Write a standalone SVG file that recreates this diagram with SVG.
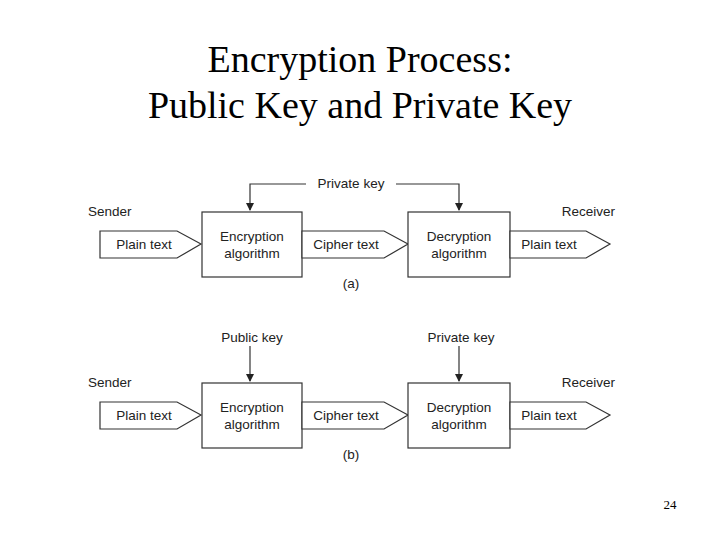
<svg xmlns="http://www.w3.org/2000/svg" width="720" height="540" viewBox="0 0 720 540">
<defs>
<style>
.t{font-family:"Liberation Serif",serif;font-size:38px;fill:#000;text-anchor:middle}
.s{font-family:"Liberation Sans",Arial,sans-serif;font-size:13.5px;fill:#222;text-anchor:middle}
.b{fill:#fff;stroke:#333;stroke-width:1.2}
.l{fill:none;stroke:#333;stroke-width:1.2}
</style>
<marker id="ah" markerWidth="8" markerHeight="8" refX="7" refY="4" orient="auto" markerUnits="userSpaceOnUse"><path d="M0,0 L8,4 L0,8 Z" fill="#222"/></marker>
</defs>
<rect width="720" height="540" fill="#fff"/>
<text class="t" x="360" y="72">Encryption Process:</text>
<text class="t" x="360" y="118">Public Key and Private Key</text>
<g id="connectors">
<path class="l" d="M306,184 H250 V210" marker-end="url(#ah)"/>
<path class="l" d="M396,184 H459 V210" marker-end="url(#ah)"/>
<path class="l" d="M250,346 V381" marker-end="url(#ah)"/>
<path class="l" d="M459,346 V381" marker-end="url(#ah)"/>
</g>
<g id="diagram-a">
<text class="s" x="351" y="188">Private key</text>
<text class="s" x="88" y="216" style="text-anchor:start">Sender</text>
<text class="s" x="615" y="216" style="text-anchor:end">Receiver</text>
<g id="a-plain-in"><path class="b" d="M100,231 H177 L201,244 L177,258 H100 Z"/><text class="s" x="144" y="249">Plain text</text></g>
<g id="a-enc"><rect class="b" x="202" y="212" width="100" height="65"/><text class="s" x="252" y="241">Encryption</text><text class="s" x="252" y="258">algorithm</text></g>
<g id="a-cipher"><path class="b" d="M302,231 H384 L408,244 L384,258 H302 Z"/><text class="s" x="346" y="249">Cipher text</text></g>
<g id="a-dec"><rect class="b" x="408" y="212" width="102" height="65"/><text class="s" x="459" y="241">Decryption</text><text class="s" x="459" y="258">algorithm</text></g>
<g id="a-plain-out"><path class="b" d="M510,231 H586 L610,244 L586,258 H510 Z"/><text class="s" x="549" y="249">Plain text</text></g>
<text class="s" x="351" y="288">(a)</text>
</g>
<g id="diagram-b">
<text class="s" x="252" y="342">Public key</text>
<text class="s" x="461" y="342">Private key</text>
<text class="s" x="88" y="387" style="text-anchor:start">Sender</text>
<text class="s" x="615" y="387" style="text-anchor:end">Receiver</text>
<g id="b-plain-in"><path class="b" d="M100,402 H177 L201,415 L177,429 H100 Z"/><text class="s" x="144" y="420">Plain text</text></g>
<g id="b-enc"><rect class="b" x="202" y="383" width="100" height="65"/><text class="s" x="252" y="412">Encryption</text><text class="s" x="252" y="429">algorithm</text></g>
<g id="b-cipher"><path class="b" d="M302,402 H384 L408,415 L384,429 H302 Z"/><text class="s" x="346" y="420">Cipher text</text></g>
<g id="b-dec"><rect class="b" x="408" y="383" width="102" height="65"/><text class="s" x="459" y="412">Decryption</text><text class="s" x="459" y="429">algorithm</text></g>
<g id="b-plain-out"><path class="b" d="M510,402 H586 L610,415 L586,429 H510 Z"/><text class="s" x="549" y="420">Plain text</text></g>
<text class="s" x="351" y="459">(b)</text>
</g>
<text x="670" y="509" style="font-family:'Liberation Serif',serif;font-size:13px;text-anchor:middle">24</text>
</svg>
